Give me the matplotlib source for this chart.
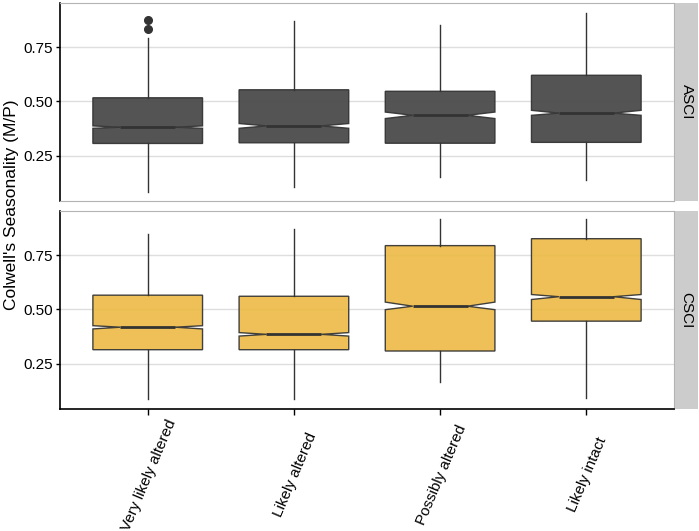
import numpy as np
import matplotlib
matplotlib.use('Agg')
import matplotlib.pyplot as plt

plt.rcParams['font.family'] = ['Liberation Sans', 'DejaVu Sans']

categories = ['Very likely altered', 'Likely altered', 'Possibly altered', 'Likely intact']
panels = ['ASCI', 'CSCI']
fills = {'ASCI': '#474747', 'CSCI': '#EDBC4A'}

# whisker low, q1, notch low, median, notch high, q3, whisker high
asci_wlo = [0.081, 0.104, 0.150, 0.138]
asci_q1 = [0.306, 0.309, 0.307, 0.311]
asci_cilo = [0.376, 0.376, 0.421, 0.436]
asci_med = [0.381, 0.387, 0.436, 0.446]
asci_cihi = [0.387, 0.398, 0.451, 0.459]
asci_q3 = [0.517, 0.554, 0.547, 0.621]
asci_whi = [0.792, 0.872, 0.853, 0.910]
asci_out = [[0.836, 0.875], [], [], []]

csci_wlo = [0.084, 0.084, 0.165, 0.090]
csci_q1 = [0.314, 0.314, 0.308, 0.446]
csci_cilo = [0.410, 0.377, 0.499, 0.546]
csci_med = [0.418, 0.385, 0.515, 0.559]
csci_cihi = [0.425, 0.393, 0.534, 0.569]
csci_q3 = [0.566, 0.561, 0.795, 0.827]
csci_whi = [0.849, 0.872, 0.918, 0.918]
csci_out = [[], [], [], []]

data = {
    'ASCI': (asci_wlo, asci_q1, asci_cilo, asci_med, asci_cihi, asci_q3, asci_whi, asci_out),
    'CSCI': (csci_wlo, csci_q1, csci_cilo, csci_med, csci_cihi, csci_q3, csci_whi, csci_out),
}

W, H = 699, 531
fig = plt.figure(figsize=(W / 100, H / 100), dpi=100)

ax_left = 60 / W
ax_w = 614 / W
rows = [(3, 201), (211, 409)]

axes = []
for (top, bot), p in zip(rows, panels):
    ax = fig.add_axes([ax_left, (H - bot) / H, ax_w, (bot - top) / H])
    wlo, q1, cilo, med, cihi, q3, whi, out = data[p]
    stats = []
    for i in range(len(categories)):
        stats.append(dict(whislo=wlo[i], q1=q1[i], cilo=cilo[i], med=med[i],
                          cihi=cihi[i], q3=q3[i], whishi=whi[i], fliers=out[i]))
    ax.bxp(stats, positions=np.arange(1, 5), widths=0.75, shownotches=True,
           patch_artist=True, showcaps=False,
           boxprops=dict(facecolor=fills[p], edgecolor='#333333', linewidth=1.0, alpha=0.93),
           medianprops=dict(color='#333333', linewidth=2.0),
           whiskerprops=dict(color='#333333', linewidth=1.0),
           flierprops=dict(marker='o', markerfacecolor='#333333', markeredgecolor='#333333',
                           markersize=5.5))
    ax.set_xlim(0.4, 4.6)
    ax.set_ylim(0.04, 0.955)
    ax.set_yticks([0.25, 0.50, 0.75])
    ax.set_yticklabels(['0.25', '0.50', '0.75'], fontsize=11)
    ax.yaxis.grid(True, color='#dedede', linewidth=1.0)
    ax.set_axisbelow(True)
    for s in ['top', 'right', 'bottom']:
        ax.spines[s].set_color('#b3b3b3')
    ax.spines['left'].set_color('black')
    ax.spines['left'].set_linewidth(1.2)
    ax.tick_params(axis='y', length=3, width=1, color='black', pad=2)
    ax.set_xticks(np.arange(1, 5))
    ax.set_xticklabels([])

    # facet strip
    sx = fig.add_axes([675 / W, (H - bot) / H, 23 / W, (bot - top) / H])
    sx.set_facecolor('#cccccc')
    sx.set_xticks([])
    sx.set_yticks([])
    for s in sx.spines.values():
        s.set_visible(False)
    sx.text(0.5, 0.5, p, rotation=-90, ha='center', va='center', fontsize=11,
            transform=sx.transAxes)
    axes.append(ax)

axes[0].tick_params(axis='x', length=0)
axb = axes[1]
axb.spines['bottom'].set_color('black')
axb.spines['bottom'].set_linewidth(1.2)
axb.tick_params(axis='x', length=4, width=1, color='black')
for i, c in enumerate(categories):
    axb.annotate(c, xy=(i + 1, 0), xycoords=('data', 'axes fraction'),
                 xytext=(0.7, -47.5), textcoords='offset points',
                 rotation=67, ha='center', va='center', fontsize=11,
                 annotation_clip=False)

fig.text(12 / W, 1 - 205 / H, "Colwell's Seasonality (M/P)", rotation=90,
         ha='center', va='center', fontsize=12.5)

fig.savefig('out.png', dpi=100)
